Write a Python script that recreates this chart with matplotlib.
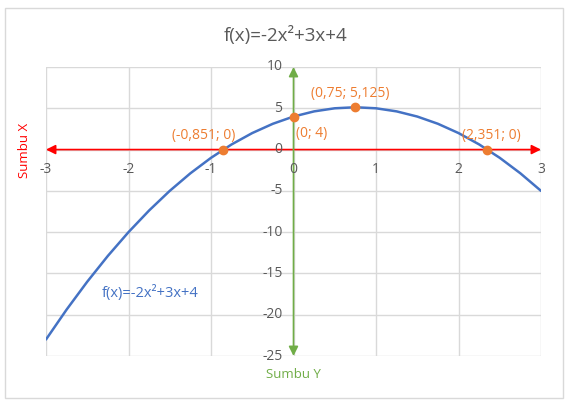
import matplotlib
matplotlib.use("Agg")
import matplotlib.pyplot as plt
from matplotlib.patches import Rectangle

plt.rcParams['font.family'] = ['Open Sans', 'DejaVu Sans']

# Curve data
x_vals = [-3, -2.75, -2.5, -2.25, -2, -1.75, -1.5, -1.25, -1, -0.75, -0.5, -0.25,
          0, 0.25, 0.5, 0.75, 1, 1.25, 1.5, 1.75, 2, 2.25, 2.5, 2.75, 3]
y_vals = [-23, -19.375, -16, -12.875, -10, -7.375, -5, -2.875, -1, 0.625, 2, 3.125,
          4, 4.625, 5, 5.125, 5, 4.625, 4, 3.125, 2, 0.625, -1, -2.875, -5]

# Special points
pt_x = [-0.851, 0, 0.75, 2.351]
pt_y = [0, 4, 5.125, 0]
pt_labels = ["(-0,851; 0)", "(0; 4)", "(0,75; 5,125)", "(2,351; 0)"]
pt_offsets = [(-14, 10), (2, -12), (-4, 10), (3, 10)]
pt_ha = ["center", "left", "center", "center"]

x_ticks = [-3, -2, -1, 0, 1, 2, 3]
y_ticks = [-25, -20, -15, -10, -5, 0, 5, 10]

title = "f(x)=-2x²+3x+4"
curve_label = "f(x)=-2x²+3x+4"

BLUE = "#4472C4"
ORANGE = "#ED7D31"
RED = "#FF0000"
GREEN = "#70AD47"
GRID = "#D9D9D9"
TXT = "#595959"

fig = plt.figure(figsize=(5.72, 4.09), dpi=100)
fig.patches.append(Rectangle((5/572, 1-398/409), 558/572, 390/409, transform=fig.transFigure,
                             fill=False, edgecolor="#D9D9D9", linewidth=1))
ax = fig.add_axes([46/572, 1-356/409, 495/572, 289/409])
ax.set_xlim(-3, 3)
ax.set_ylim(-25, 10)
for s in ax.spines.values():
    s.set_visible(False)
ax.set_xticks([])
ax.set_yticks([])
for xt in x_ticks:
    ax.axvline(xt, color=GRID, lw=1, zorder=0)
for yt in y_ticks:
    ax.axhline(yt, color=GRID, lw=1, zorder=0)

# axes arrows
ax.annotate("", xy=(-3, 0), xytext=(3, 0),
            arrowprops=dict(arrowstyle="<|-|>", color=RED, lw=1.2, mutation_scale=14, shrinkA=0, shrinkB=0), zorder=2)
ax.annotate("", xy=(0, 10), xytext=(0, -25),
            arrowprops=dict(arrowstyle="<|-|>", color=GREEN, lw=1.2, mutation_scale=14, shrinkA=0, shrinkB=0), zorder=2)

# tick labels
for xt in x_ticks:
    ax.annotate(str(xt), (xt, 0), xytext=(0, -9), textcoords="offset points",
                ha="center", va="top", fontsize=10, color=TXT)
for yt in y_ticks:
    ax.annotate(str(yt), (0, yt), xytext=(-8, 0), textcoords="offset points",
                ha="right", va="center", fontsize=10, color=TXT)

ax.plot(x_vals, y_vals, color=BLUE, lw=1.8, zorder=3, solid_capstyle="round")
ax.scatter(pt_x, pt_y, s=36, color=ORANGE, zorder=4)
for x, y, lab, off, ha in zip(pt_x, pt_y, pt_labels, pt_offsets, pt_ha):
    ax.annotate(lab, (x, y), xytext=off, textcoords="offset points", ha=ha, va="center",
                fontsize=10, color=ORANGE)

ax.text(-2.33, -17.4, curve_label, color=BLUE, fontsize=10.5, ha="left", va="center")

fig.text(286/572, 1-35/409, title, ha="center", va="center", fontsize=13.5, color=TXT)
fig.text(25/572, 1-150/409, "Sumbu X", rotation=90, ha="center", va="center", fontsize=9.5, color=RED)
fig.text(293/572, 1-375/409, "Sumbu Y", ha="center", va="center", fontsize=9.5, color=GREEN)

fig.savefig("out.png", dpi=100)
